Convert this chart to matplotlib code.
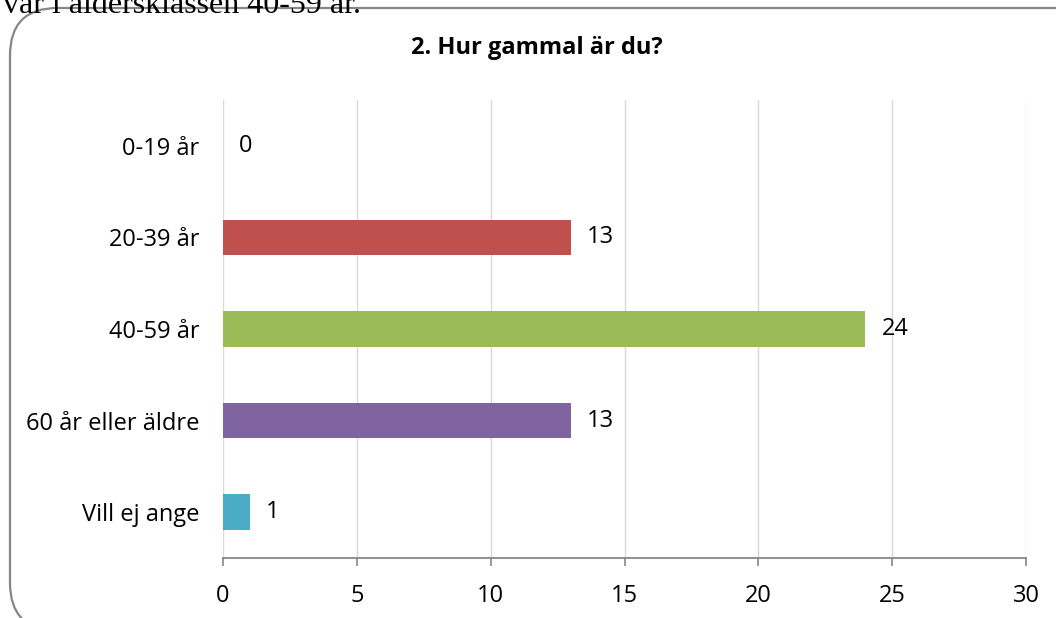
import matplotlib.pyplot as plt
from matplotlib.patches import FancyBboxPatch

# chart data
categories = ['0-19 år', '20-39 år', '40-59 år', '60 år eller äldre', 'Vill ej ange']
values = [0, 13, 24, 13, 1]
colors = ['#4F81BD', '#C0504D', '#9BBB59', '#8064A2', '#4BACC6']
xticks = [0, 5, 10, 15, 20, 25, 30]

plt.rcParams['font.family'] = ['Open Sans', 'DejaVu Sans']
FS = 17

fig = plt.figure(figsize=(10.56, 6.18), dpi=100)

# cut-off line of text from the surrounding document
fig.text(0.003, 1 - 13 / 618, 'var i åldersklassen 40-59 år.', family='Liberation Serif',
         fontsize=23, ha='left', va='baseline')

# rounded chart frame (runs past the right and bottom edge)
frame = FancyBboxPatch((10 / 1056, -0.02), 1.05, 1 - 8 / 618 + 0.02,
                       boxstyle='round,pad=0,rounding_size=0.045',
                       transform=fig.transFigure, fill=False,
                       edgecolor='#868686', linewidth=1.6, mutation_aspect=1056 / 618)
fig.patches.append(frame)

ax = fig.add_axes([223 / 1056, (618 - 558) / 618, (1026 - 223) / 1056, (558 - 100) / 618])

pos = list(range(len(categories)))
ax.barh(pos, values, height=0.39, color=colors, zorder=3)
for p, v in zip(pos, values):
    ax.text(v + 0.6, p, str(v), va='center', ha='left', fontsize=FS)

ax.set_xlim(0, 30)
ax.set_ylim(4.5, -0.5)
ax.set_xticks(xticks)
ax.set_yticks(pos)
ax.set_yticklabels(categories)
ax.tick_params(axis='y', length=0, pad=17, labelsize=FS)
ax.tick_params(axis='x', length=6, width=1.2, color='#868686', pad=13, labelsize=FS)
ax.grid(axis='x', color='#D9D9D9', linewidth=1, zorder=0)
for s in ['top', 'right', 'left']:
    ax.spines[s].set_visible(False)
ax.spines['bottom'].set_color('#868686')
ax.spines['bottom'].set_linewidth(1.3)
ax.spines['bottom'].set_zorder(4)

fig.text(537 / 1056, 1 - 48 / 618, '2. Hur gammal är du?', ha='center', va='center',
         fontsize=17, fontweight='bold')

fig.savefig('out.png', dpi=100)
